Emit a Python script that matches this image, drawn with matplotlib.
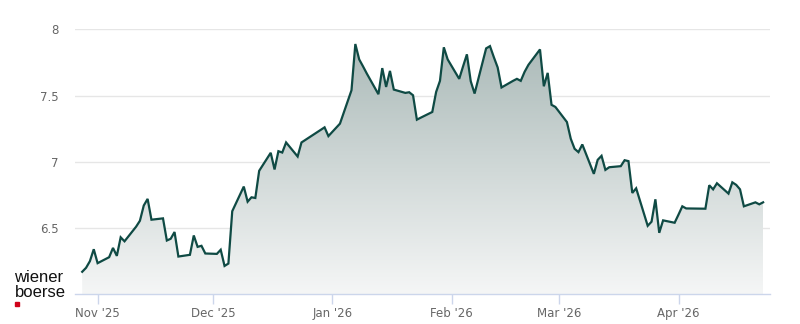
import pandas as pd
import numpy as np
import matplotlib
matplotlib.use("Agg")
import matplotlib.pyplot as plt
import matplotlib.dates as mdates
from matplotlib.colors import LinearSegmentedColormap
from matplotlib.patches import Rectangle

# daily closing prices
dates = [
    "2025-10-27", "2025-10-28", "2025-10-29", "2025-10-30", "2025-10-31",
    "2025-11-03", "2025-11-04", "2025-11-05", "2025-11-06", "2025-11-07",
    "2025-11-10", "2025-11-11", "2025-11-12", "2025-11-13", "2025-11-14",
    "2025-11-17", "2025-11-18", "2025-11-19", "2025-11-20", "2025-11-21",
    "2025-11-24", "2025-11-25", "2025-11-26", "2025-11-27", "2025-11-28",
    "2025-12-01", "2025-12-02", "2025-12-03", "2025-12-04", "2025-12-05",
    "2025-12-08", "2025-12-09", "2025-12-10", "2025-12-11", "2025-12-12",
    "2025-12-15", "2025-12-16", "2025-12-17", "2025-12-18", "2025-12-19",
    "2025-12-22", "2025-12-23", "2025-12-29", "2025-12-30", "2026-01-02",
    "2026-01-05", "2026-01-06", "2026-01-07", "2026-01-08", "2026-01-09",
    "2026-01-12", "2026-01-13", "2026-01-14", "2026-01-15", "2026-01-16",
    "2026-01-19", "2026-01-20", "2026-01-21", "2026-01-22", "2026-01-23",
    "2026-01-26", "2026-01-27", "2026-01-28", "2026-01-29", "2026-01-30",
    "2026-02-02", "2026-02-03", "2026-02-04", "2026-02-05", "2026-02-06",
    "2026-02-09", "2026-02-10", "2026-02-11", "2026-02-12", "2026-02-13",
    "2026-02-16", "2026-02-17", "2026-02-18", "2026-02-19", "2026-02-20",
    "2026-02-23", "2026-02-24", "2026-02-25", "2026-02-26", "2026-02-27",
    "2026-03-02", "2026-03-03", "2026-03-04", "2026-03-05", "2026-03-06",
    "2026-03-09", "2026-03-10", "2026-03-11", "2026-03-12", "2026-03-13",
    "2026-03-16", "2026-03-17", "2026-03-18", "2026-03-19", "2026-03-20",
    "2026-03-23", "2026-03-24", "2026-03-25", "2026-03-26", "2026-03-27",
    "2026-03-30", "2026-03-31", "2026-04-01", "2026-04-02", "2026-04-07",
    "2026-04-08", "2026-04-09", "2026-04-10", "2026-04-13", "2026-04-14",
    "2026-04-15", "2026-04-16", "2026-04-17", "2026-04-20", "2026-04-21",
    "2026-04-22",
]
prices = [
    6.17, 6.20, 6.25, 6.34, 6.235,
    6.28, 6.35, 6.29, 6.43, 6.40,
    6.51, 6.555, 6.67, 6.72, 6.563,
    6.573, 6.406, 6.419, 6.47, 6.285,
    6.298, 6.444, 6.358, 6.366, 6.308,
    6.305, 6.336, 6.214, 6.232, 6.627,
    6.813, 6.699, 6.732, 6.727, 6.932,
    7.068, 6.942, 7.08, 7.07, 7.146,
    7.04, 7.146, 7.26, 7.194, 7.288,
    7.54, 7.889, 7.773, 7.72, 7.665,
    7.51, 7.707, 7.565, 7.686, 7.545,
    7.52, 7.525, 7.502, 7.318, 7.333,
    7.376, 7.527, 7.611, 7.864, 7.773,
    7.626, 7.72, 7.811, 7.608, 7.515,
    7.856, 7.873, 7.79, 7.712, 7.561,
    7.611, 7.626, 7.611, 7.679, 7.732,
    7.848, 7.57, 7.671, 7.43, 7.414,
    7.30, 7.174, 7.098, 7.073, 7.131,
    6.909, 7.015, 7.045, 6.939, 6.959,
    6.967, 7.012, 7.005, 6.765, 6.80,
    6.517, 6.548, 6.717, 6.464, 6.558,
    6.54, 6.601, 6.664, 6.648, 6.646,
    6.823, 6.792, 6.838, 6.76, 6.845,
    6.826, 6.792, 6.664, 6.694, 6.679,
    6.694,
]
tick_dates = ["2025-11-01", "2025-12-01", "2026-01-01", "2026-02-01", "2026-03-01", "2026-04-01"]
tick_labels = ["Nov '25", "Dec '25", "Jan '26", "Feb '26", "Mar '26", "Apr '26"]
y_ticks = [6.5, 7, 7.5, 8]
y_labels = ["6.5", "7", "7.5", "8"]

line_color = "#0f4a44"
grid_color = "#e6e6e6"
axis_color = "#ccd6eb"
label_color = "#666666"

# points sit at the end of the trading day on this chart
x = pd.to_datetime(dates) + pd.Timedelta(hours=23)
xn = mdates.date2num(x)
y = np.array(prices)

fig = plt.figure(figsize=(8, 3.24), dpi=100)
ax = fig.add_axes([75 / 800, (324 - 294.3) / 324, 695 / 800, 265 / 324])

ymin, ymax = 6.0, 8.0
x0 = mdates.date2num(pd.Timestamp("2025-10-26 02:00"))
x1 = mdates.date2num(pd.Timestamp("2026-04-24 18:00"))

# gradient fill under the line
poly = ax.fill_between(xn, y, ymin, color="none", lw=0)
cmap = LinearSegmentedColormap.from_list("fill", ["#f5f6f6", "#a7b7b5"])
grad = np.linspace(0, 1, 256).reshape(-1, 1)
img = ax.imshow(grad, cmap=cmap, aspect="auto", origin="lower",
                extent=[xn[0], xn[-1], ymin, ymax], zorder=1)
img.set_clip_path(poly.get_paths()[0], transform=ax.transData)

ax.plot(xn, y, color=line_color, lw=1.6, zorder=3, solid_joinstyle="miter")

ax.set_xlim(x0, x1)
ax.set_ylim(ymin, ymax)

ax.set_yticks(y_ticks)
ax.set_yticklabels(y_labels)
ax.set_xticks(mdates.date2num(pd.to_datetime(tick_dates)))
ax.set_xticklabels(tick_labels)

for v in y_ticks:
    ax.axhline(v, color=grid_color, lw=1, zorder=0)

for s in ["top", "right", "left"]:
    ax.spines[s].set_visible(False)
ax.spines["bottom"].set_color(axis_color)
ax.spines["bottom"].set_linewidth(1)
ax.spines["bottom"].set_zorder(4)

ax.tick_params(axis="y", length=0, pad=12, labelsize=8.5, labelcolor=label_color)
ax.tick_params(axis="x", length=7, width=1, color=axis_color, pad=2,
               labelsize=8.5, labelcolor=label_color)

# wiener boerse logo
fig.text(14.5 / 800, 1 - 282 / 324, "wiener", fontsize=12, color="#111111",
         family="Liberation Sans", va="baseline", ha="left")
fig.text(14.5 / 800, 1 - 297 / 324, "boerse", fontsize=12, color="#111111",
         family="Liberation Sans", va="baseline", ha="left")
fig.patches.append(Rectangle((15.3 / 800, 1 - 305.7 / 324), 4 / 800, 3.7 / 324,
                             transform=fig.transFigure, color="#d0021b"))

fig.savefig("out.png", dpi=100, facecolor="white")
